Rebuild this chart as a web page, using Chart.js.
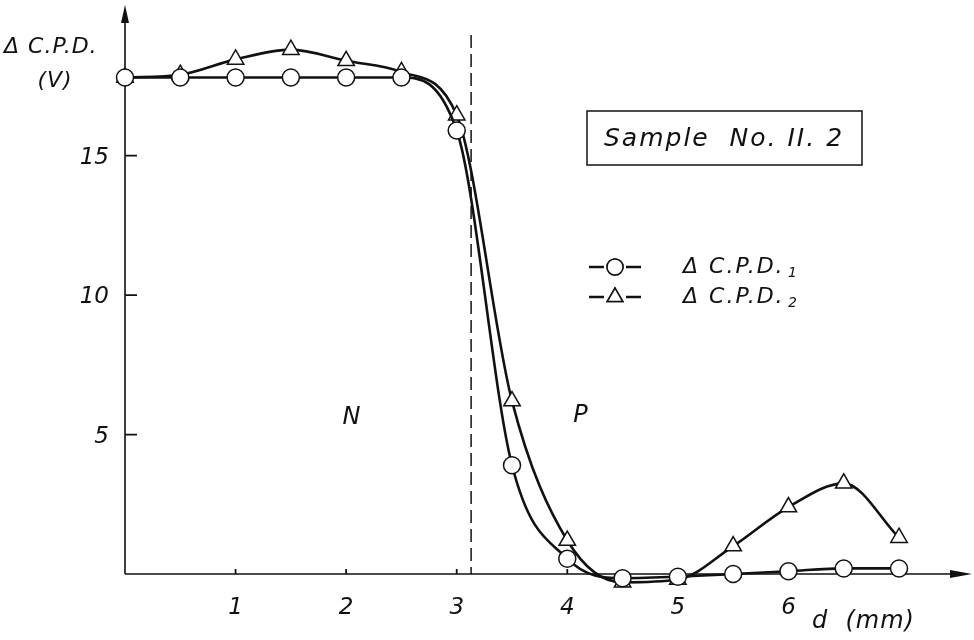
<!DOCTYPE html>
<html>
<head>
<meta charset="utf-8">
<script src="https://cdn.jsdelivr.net/npm/chart.js@4.4.1/dist/chart.umd.min.js"></script>
<style>
  html, body { margin: 0; padding: 0; background: #fff; }
</style>
</head>
<body>
<canvas id="cpdChart" width="974" height="640"></canvas>
<script>
// distance from the edge, mm
var distances = [0, 0.5, 1, 1.5, 2, 2.5, 3, 3.5, 4, 4.5, 5, 5.5, 6, 6.5, 7];
// delta C.P.D. in volts
var cpd1 = [17.8, 17.8, 17.8, 17.8, 17.8, 17.8, 15.9, 3.9, 0.55, -0.15, -0.1, 0.0, 0.1, 0.2, 0.2];
var cpd2 = [17.8, 17.9, 18.45, 18.8, 18.4, 18.0, 16.45, 6.2, 1.2, -0.3, -0.2, 1.0, 2.4, 3.25, 1.3];
var xTicks = [1, 2, 3, 4, 5, 6];
var yTicks = [5, 10, 15];
var junctionAt = 3.13;   // N / P boundary (dashed line)

var ink = '#111';
var handFont = '"DejaVu Sans", sans-serif';

function pts(ys) {
  return distances.map(function (d, i) { return { x: d, y: ys[i] }; });
}

var paperPlugin = {
  id: 'paper',
  beforeDatasetsDraw: function (chart) {
    var ctx = chart.ctx, xs = chart.scales.x, ys = chart.scales.y;
    var x0 = xs.getPixelForValue(0), y0 = ys.getPixelForValue(0);
    var top = chart.chartArea.top, right = chart.chartArea.right;
    ctx.save();
    ctx.strokeStyle = ink; ctx.fillStyle = ink; ctx.lineWidth = 1.6;
    // axes
    ctx.beginPath();
    ctx.moveTo(x0, y0); ctx.lineTo(x0, top + 10);
    ctx.moveTo(x0, y0); ctx.lineTo(right - 12, y0);
    ctx.stroke();
    // arrow heads
    ctx.beginPath();
    ctx.moveTo(x0, top); ctx.lineTo(x0 - 4, top + 18); ctx.lineTo(x0 + 4, top + 18); ctx.closePath();
    ctx.fill();
    ctx.beginPath();
    ctx.moveTo(right, y0); ctx.lineTo(right - 22, y0 - 4); ctx.lineTo(right - 22, y0 + 4); ctx.closePath();
    ctx.fill();
    // inside ticks
    ctx.lineWidth = 1.8;
    ctx.beginPath();
    yTicks.forEach(function (v) {
      var p = ys.getPixelForValue(v);
      ctx.moveTo(x0, p); ctx.lineTo(x0 + 12, p);
    });
    xTicks.forEach(function (v) {
      var p = xs.getPixelForValue(v);
      ctx.moveTo(p, y0); ctx.lineTo(p, y0 - 5);
    });
    ctx.stroke();
    // y labels (drawn here so they add no layout padding)
    ctx.font = 'italic 23px ' + handFont;
    ctx.textAlign = 'right';
    ctx.textBaseline = 'middle';
    yTicks.forEach(function (v) {
      ctx.fillText(String(v), x0 - 16, ys.getPixelForValue(v) + 2);
    });
    // junction line
    var jx = xs.getPixelForValue(junctionAt);
    ctx.setLineDash([13, 6]);
    ctx.lineWidth = 1.5;
    ctx.beginPath();
    ctx.moveTo(jx, 35); ctx.lineTo(jx, y0);
    ctx.stroke();
    ctx.restore();
  },
  afterDatasetsDraw: function (chart) {
    var ctx = chart.ctx;
    ctx.save();
    ctx.fillStyle = ink; ctx.strokeStyle = ink;
    ctx.textBaseline = 'middle';
    ctx.font = 'italic 22px ' + handFont;
    ctx.letterSpacing = '1px';
    ctx.textAlign = 'left';
    ctx.fillText('\u0394 C.P.D.', 4, 47);
    ctx.textAlign = 'center';
    ctx.fillText('(V)', 55, 81);
    ctx.font = 'italic 24px ' + handFont;
    ctx.fillText('N', 352, 418);
    ctx.fillText('P', 581, 416);
    ctx.textAlign = 'left';
    ctx.fillText('d  (mm)', 812, 622);

    // sample box
    ctx.lineWidth = 1.5;
    ctx.strokeRect(587, 111, 275, 54);
    ctx.textAlign = 'center';
    ctx.font = 'italic 25px ' + handFont;
    ctx.letterSpacing = '2px';
    ctx.fillText('Sample  No. II. 2', 724, 139);

    // legend
    var rows = [
      { y: 267, style: 'circle', sub: '1' },
      { y: 297, style: 'triangle', sub: '2' }
    ];
    rows.forEach(function (r) {
      ctx.lineWidth = 2.5;
      ctx.beginPath();
      ctx.moveTo(589, r.y); ctx.lineTo(604, r.y);
      ctx.moveTo(626, r.y); ctx.lineTo(641, r.y);
      ctx.stroke();
      ctx.lineWidth = 1.5;
      ctx.fillStyle = '#fff';
      Chart.helpers.drawPoint(ctx, { pointStyle: r.style, radius: r.style === 'circle' ? 8 : 9, rotation: 0, borderWidth: 1.5 }, 615, r.y);
      ctx.fill(); ctx.stroke();
      ctx.fillStyle = ink;
      ctx.textAlign = 'left';
      ctx.font = 'italic 22px ' + handFont;
      ctx.letterSpacing = '2px';
      ctx.fillText('\u0394 C.P.D.', 683, r.y);
      ctx.font = 'italic 14px ' + handFont;
      ctx.letterSpacing = '0px';
      ctx.fillText(r.sub, 788, r.y + 6);
    });
    ctx.restore();
  }
};

new Chart(document.getElementById('cpdChart'), {
  type: 'line',
  data: {
    datasets: [
      {
        label: '\u0394 C.P.D.1',
        data: pts(cpd1),
        borderColor: ink,
        borderWidth: 2.6,
        pointStyle: 'circle',
        pointRadius: 8.5,
        pointBorderWidth: 1.5,
        pointBorderColor: ink,
        pointBackgroundColor: '#fff',
        cubicInterpolationMode: 'monotone',
        clip: false
      },
      {
        label: '\u0394 C.P.D.2',
        data: pts(cpd2),
        borderColor: ink,
        borderWidth: 2.6,
        pointStyle: 'triangle',
        pointRadius: 9.5,
        pointBorderWidth: 1.5,
        pointBorderColor: ink,
        pointBackgroundColor: '#fff',
        cubicInterpolationMode: 'monotone',
        clip: false
      }
    ]
  },
  options: {
    responsive: false,
    animation: false,
    devicePixelRatio: 1,
    layout: { autoPadding: false, padding: { top: 5, right: 2, left: 0, bottom: 0 } },
    plugins: { legend: { display: false }, tooltip: { enabled: false } },
    scales: {
      x: {
        type: 'linear',
        min: 0,
        max: 7.66,
        afterBuildTicks: function (s) { s.ticks = xTicks.map(function (v) { return { value: v }; }); },
        afterFit: function (s) { s.height = 66; },
        grid: { display: false },
        border: { display: false },
        ticks: { color: ink, padding: 12, maxRotation: 0, font: { family: handFont, size: 23, style: 'italic' } }
      },
      y: {
        min: 0,
        max: 20.4,
        afterBuildTicks: function (s) { s.ticks = yTicks.map(function (v) { return { value: v }; }); },
        afterFit: function (s) { s.width = 125; },
        grid: { display: false },
        border: { display: false },
        ticks: { display: false }
      }
    }
  },
  plugins: [paperPlugin]
});
</script>
</body>
</html>
